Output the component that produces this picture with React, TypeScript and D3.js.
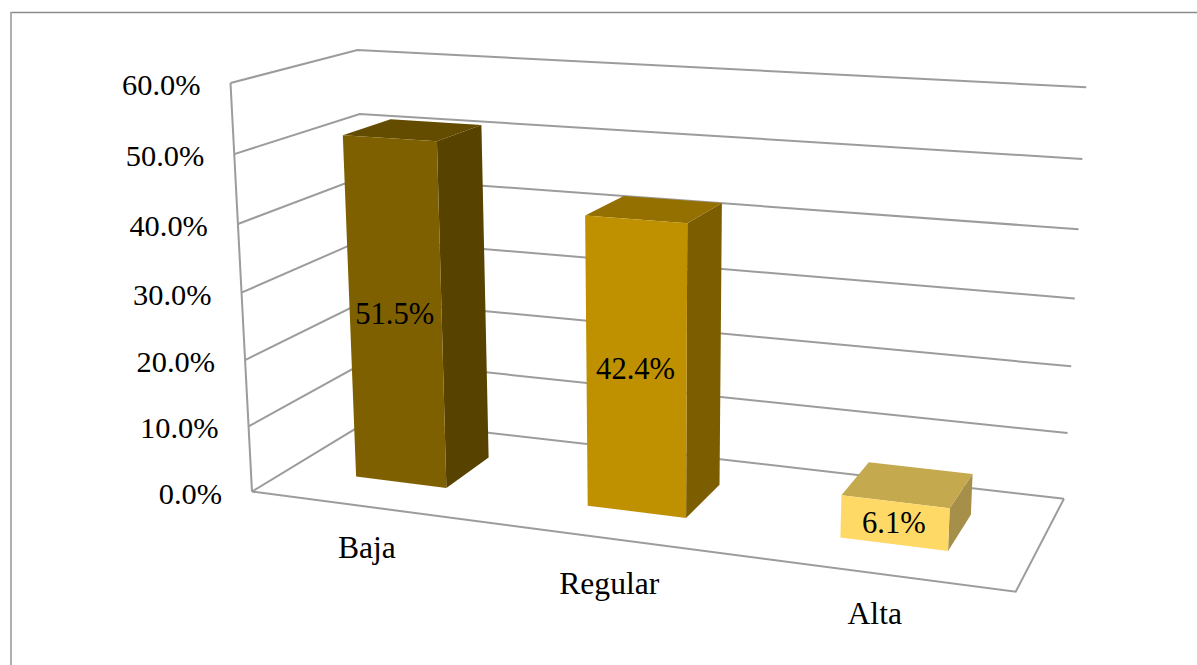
import React from "react";
import * as d3 from "d3";

const categories = ["Baja", "Regular", "Alta"];
const values = [51.5, 42.4, 6.1];
const valueLabels = ["51.5%", "42.4%", "6.1%"];
const yTicks = [0, 10, 20, 30, 40, 50, 60];
const yTickLabels = ["0.0%", "10.0%", "20.0%", "30.0%", "40.0%", "50.0%", "60.0%"];

const frontColors = ["#7F6000", "#BF9000", "#FFD966"];
const topColors = ["#634B00", "#947000", "#C5A94F"];
const sideColors = ["#574200", "#7C5E00", "#A69049"];

const W = 1197;
const H = 665;
const FONT = "'Liberation Serif', 'Times New Roman', serif";
const GRID = "#9C9C9C";

// Projective camera of the 3-D plot: across (u), depth (v), height (t), each 0..1.
const cam = { a: 633.8, b: 160.1, c: 252, d: 24.4, e: -25.8, f: 491.6, g: -0.1279, h: 0.1109, kx: -33.18, ky: -412.8, n: -0.05066, skew: 4.2 };

const heightScale = d3.scaleLinear().domain([0, 60]).range([0, 1]);
const acrossScale = d3.scaleBand<string>().domain(categories).range([0, 1]).paddingInner(0.6).paddingOuter(0.3);

type Pt = [number, number];
function project(u: number, v: number, val: number): Pt {
  const t = heightScale(val);
  const w = cam.g * u + cam.h * v + cam.n * t + 1;
  const x = (cam.a * u + cam.b * v + cam.kx * t + cam.c) / w;
  const y = (cam.d * u + cam.e * v + cam.ky * t + cam.f) / w + cam.skew * t * u * v;
  return [x, y];
}

const path = d3.line<Pt>();
const closed = (pts: Pt[]) => path(pts) + "Z";

const BAR_FRONT = 0.3;
const BAR_BACK = 0.7;
const CATEGORY_DY = [51.2, 55.3, 51];

export default function App() {
  const maxV = yTicks[yTicks.length - 1];
  return (
    <svg width={W} height={H} style={{ position: "absolute", left: 0, top: 0, display: "block", background: "#fff" }}>
      <line x1={10.5} y1={12.5} x2={W} y2={12.5} stroke="#8A8A8A" strokeWidth={1.6} />
      <line x1={11} y1={12} x2={11} y2={H} stroke="#A6A6A6" strokeWidth={1.8} />

      {yTicks.map((tk) => (
        <path key={tk} d={path([project(0, 0, tk), project(0, 1, tk), project(1, 1, tk)]) as string} fill="none" stroke={GRID} strokeWidth={2} />
      ))}
      <path d={path([project(0, 0, 0), project(0, 0, maxV)]) as string} fill="none" stroke={GRID} strokeWidth={2} />
      <path d={path([project(0, 0, 0), project(1, 0, 0), project(1, 1, 0)]) as string} fill="none" stroke={GRID} strokeWidth={2} />

      {yTicks.map((tk, i) => {
        const [x, y] = project(0, 0, tk);
        return (
          <text key={tk} x={x - 30} y={y + 12} textAnchor="end" fontFamily={FONT} fontSize={30.4} fill="#000">
            {yTickLabels[i]}
          </text>
        );
      })}

      {categories.map((c, i) => {
        const u0 = acrossScale(c) as number;
        const u1 = u0 + acrossScale.bandwidth();
        const val = values[i];
        const v0 = BAR_FRONT;
        const v1 = BAR_BACK;
        const front = [project(u0, v0, 0), project(u1, v0, 0), project(u1, v0, val), project(u0, v0, val)];
        const side = [project(u1, v0, 0), project(u1, v1, 0), project(u1, v1, val), project(u1, v0, val)];
        const top = [project(u0, v0, val), project(u1, v0, val), project(u1, v1, val), project(u0, v1, val)];
        const [lx, ly] = project((u0 + u1) / 2, v0, val / 2);
        return (
          <g key={c}>
            <path d={closed(side)} fill={sideColors[i]} />
            <path d={closed(top)} fill={topColors[i]} />
            <path d={closed(front)} fill={frontColors[i]} />
            <text x={lx - 0.5} y={ly + 10.5} textAnchor="middle" fontFamily={FONT} fontSize={30.6} fill="#000">
              {valueLabels[i]}
            </text>
          </g>
        );
      })}

      {categories.map((c, i) => {
        const u = (acrossScale(c) as number) + acrossScale.bandwidth() / 2;
        const [x, y] = project(u, 0, 0);
        return (
          <text key={c} x={x + 1.5} y={y + CATEGORY_DY[i]} textAnchor="middle" fontFamily={FONT} fontSize={31.6} fill="#000">
            {c}
          </text>
        );
      })}
    </svg>
  );
}
